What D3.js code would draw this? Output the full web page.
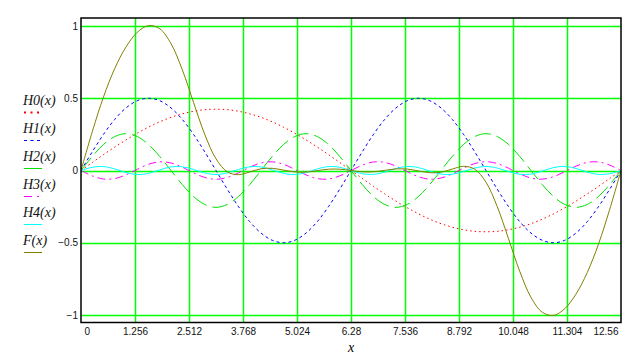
<!DOCTYPE html>
<html>
<head>
<meta charset="utf-8">
<script src="https://cdn.jsdelivr.net/npm/d3@7"></script>
<style>
body { margin: 0; background: #fff; }
</style>
</head>
<body>
<script>
var xStep = 12.56 / 48

var H0 = [0, .055, .110, .162, .212, .258, .300, .337, .368, .392, .410, .421, .424, .421, .410, .392, .368, .337, .300, .258, .212, .162, .110, .055, 0,
    -.055, -.110, -.162, -.212, -.258, -.300, -.337, -.368, -.392, -.410, -.421, -.424, -.421, -.410, -.392, -.368, -.337, -.300, -.258, -.212, -.162, -.110, -.055, 0]
var H1 = [0, .129, .25, .354, .433, .483, .5, .483, .433, .354, .25, .129, 0, -.129, -.25, -.354, -.433, -.483, -.5, -.483, -.433, -.354, -.25, -.129, 0,
    .129, .25, .354, .433, .483, .5, .483, .433, .354, .25, .129, 0, -.129, -.25, -.354, -.433, -.483, -.5, -.483, -.433, -.354, -.25, -.129, 0]
var H2 = [0, .097, .18, .235, .255, .235, .18, .097, 0, -.097, -.18, -.235, -.255, -.235, -.18, -.097,
    0, .097, .18, .235, .255, .235, .18, .097, 0, -.097, -.18, -.235, -.255, -.235, -.18, -.097,
    0, .097, .18, .235, .255, .235, .18, .097, 0, -.097, -.18, -.235, -.255, -.235, -.18, -.097, 0]
var H3 = [0, -.037, -.059, -.056, -.030, .008, .043, .060, .052, .023, -.016, -.048, -.061, -.048, -.016, .023, .052, .060, .043, .008, -.030, -.056, -.059, -.037, 0,
    .037, .059, .056, .030, -.008, -.043, -.060, -.052, -.023, .016, .048, .061, .048, .016, -.023, -.052, -.060, -.043, -.008, .030, .056, .059, .037, 0]
var H4 = [0, .022, .027, .011, -.014, -.028, -.020, .004, .025, .026, .007, -.017, -.028, -.017, .007, .026, .025, .004, -.020, -.028, -.014, .011, .027, .022, 0,
    -.022, -.027, -.011, .014, .028, .020, -.004, -.025, -.026, -.007, .017, .028, .017, -.007, -.026, -.025, -.004, .020, .028, .014, -.011, -.027, -.022, 0]
var F = [0, .268, .509, .706, .855, .956, 1.003, .981, .878, .698, .472, .25, .081, -.009, -.029, -.01, .012, .015, .003, -.01, -.011, -.001, .009, .009, 0,
    -.009, -.009, .001, .011, .01, -.003, -.015, -.012, .01, .029, .009, -.081, -.25, -.472, -.698, -.878, -.981, -1.003, -.956, -.855, -.706, -.509, -.268, 0]

var names = ['H0(x)', 'H1(x)', 'H2(x)', 'H3(x)', 'H4(x)', 'F(x)']
var xTicks = [0, 1.256, 2.512, 3.768, 5.024, 6.28, 7.536, 8.792, 10.048, 11.304, 12.56]
var yTicks = [-1, -0.5, 0, 0.5, 1]
var xTitle = 'x'

var series = [H0, H1, H2, H3, H4, F]
var colors = ['#ff0000', '#0000ff', '#00e000', '#ff00ff', '#00ffff', '#808000']
var dashes = ['1.5,3', '3,3', '16,6', '8,4,2,4', null, null]
var legendDashes = ['2,4.5', '3,3.5', null, '8,5,2,10', null, null]

var width = 640,
    height = 356
// "top" is taken by window.top, so use plot-prefixed names
var plotL = 81, plotR = 621, plotT = 18, plotB = 322.5

var svg = d3.select('body').append('svg')
    .attr('width', width)
    .attr('height', height)

var x = d3.scaleLinear().domain([0, 12.56]).range([plotL, plotR])
var y = d3.scaleLinear().domain([-1, 1]).range([315, 26])

svg.append('clipPath').attr('id', 'plot')
    .append('rect')
    .attr('x', plotL).attr('y', plotT)
    .attr('width', plotR - plotL).attr('height', plotB - plotT)

// grid
svg.append('g').selectAll('line')
    .data(xTicks.slice(1, -1)).enter()
    .append('line')
    .attr('x1', d => Math.round(x(d)) + 0.5).attr('x2', d => Math.round(x(d)) + 0.5)
    .attr('y1', plotT).attr('y2', plotB)
    .attr('stroke', '#00ff00')
    .attr('stroke-width', 1.5)
svg.append('g').selectAll('line')
    .data(yTicks).enter()
    .append('line')
    .attr('x1', plotL).attr('x2', plotR)
    .attr('y1', d => Math.round(y(d)) + 0.5).attr('y2', d => Math.round(y(d)) + 0.5)
    .attr('stroke', '#00ff00')
    .attr('stroke-width', 1.5)

// curves
var line = d3.line()
    .x((d, i) => x(i * xStep))
    .y(d => y(d))
    .curve(d3.curveCatmullRom)

svg.append('g').attr('clip-path', 'url(#plot)')
    .selectAll('path')
    .data(series).enter()
    .append('path')
    .attr('d', line)
    .attr('fill', 'none')
    .attr('stroke', (d, i) => colors[i])
    .attr('stroke-width', 1)
    .attr('stroke-dasharray', (d, i) => dashes[i])

// frame
svg.append('rect')
    .attr('x', plotL).attr('y', plotT)
    .attr('width', plotR - plotL).attr('height', plotB - plotT)
    .attr('fill', 'none')
    .attr('stroke', '#000')
    .attr('stroke-width', 1.5)

// axes
var xAxis = svg.append('g')
    .attr('transform', 'translate(0,' + plotB + ')')
    .call(d3.axisBottom(x).tickValues(xTicks).tickSize(0).tickPadding(5).tickFormat(d => String(d)))
xAxis.select('.domain').remove()
xAxis.selectAll('text')
    .attr('font-family', 'Liberation Sans, Arial, sans-serif')
    .attr('font-size', 10)
    .attr('fill', '#111')
    .attr('text-anchor', (d, i) => i == 0 ? 'start' : i == xTicks.length - 1 ? 'end' : 'middle')
    .attr('dx', (d, i) => i == 0 ? 3 : i == xTicks.length - 1 ? -3 : 0)

var yAxis = svg.append('g')
    .attr('transform', 'translate(' + plotL + ',0)')
    .call(d3.axisLeft(y).tickValues(yTicks).tickSize(0).tickPadding(3).tickFormat(d3.format('')))
yAxis.select('.domain').remove()
yAxis.selectAll('text')
    .attr('font-family', 'Liberation Sans, Arial, sans-serif')
    .attr('font-size', 10)
    .attr('fill', '#111')

svg.append('text')
    .attr('x', (plotL + plotR) / 2)
    .attr('y', 352)
    .attr('text-anchor', 'middle')
    .attr('font-family', 'Liberation Serif, Times New Roman, serif')
    .attr('font-style', 'italic')
    .attr('font-size', 14)
    .text(xTitle)

// legend
var legend = svg.append('g').selectAll('g')
    .data(names).enter()
    .append('g')
    .attr('transform', (d, i) => 'translate(23,' + (105 + i * 28) + ')')
legend.append('text')
    .attr('font-family', 'Liberation Serif, Times New Roman, serif')
    .attr('font-style', 'italic')
    .attr('font-size', 14)
    .attr('fill', '#111')
    .text(d => d)
legend.append('line')
    .attr('x1', 1).attr('x2', 19)
    .attr('y1', 7.5).attr('y2', 7.5)
    .attr('stroke', (d, i) => colors[i])
    .attr('stroke-width', (d, i) => i == 0 ? 2 : 1)
    .attr('stroke-dasharray', (d, i) => legendDashes[i])
</script>
</body>
</html>
